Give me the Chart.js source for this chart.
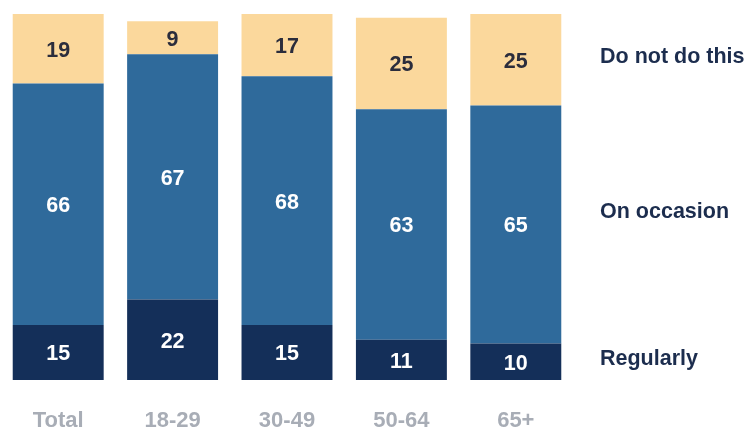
<!DOCTYPE html>
<html>
<head>
<meta charset="utf-8">
<script src="https://cdn.jsdelivr.net/npm/chart.js@4.4.0/dist/chart.umd.min.js"></script>
<style>
  html, body { margin: 0; padding: 0; background: #ffffff; }
  #wrap { width: 750px; height: 432px; }
</style>
</head>
<body>
<div id="wrap"><canvas id="chart"></canvas></div>
<script>
// Chart data
const categories = ['Total', '18-29', '30-49', '50-64', '65+'];
const regularly = [15, 22, 15, 11, 10];
const onOccasion = [66, 67, 68, 63, 65];
const doNotDoThis = [19, 9, 17, 25, 25];
const seriesNames = ['Regularly', 'On occasion', 'Do not do this'];

const FONT = "'Liberation Sans', Arial, sans-serif";

// value labels inside each bar segment
const segmentLabels = {
    id: 'segmentLabels',
    afterDatasetsDraw(chart) {
        const ctx = chart.ctx;
        ctx.save();
        ctx.font = 'bold 21.5px ' + FONT;
        ctx.textAlign = 'center';
        ctx.textBaseline = 'middle';
        chart.data.datasets.forEach((ds, i) => {
            const meta = chart.getDatasetMeta(i);
            meta.data.forEach((bar, j) => {
                ctx.fillStyle = ds.labelColor;
                ctx.fillText(ds.data[j], bar.x, (bar.y + bar.base) / 2 + 2);
            });
        });
        ctx.restore();
    }
};

// series names to the right of the bars
const sideLabels = {
    id: 'sideLabels',
    afterDraw(chart) {
        const ctx = chart.ctx;
        const y = chart.scales.y;
        const datasets = chart.data.datasets;
        ctx.save();
        ctx.font = 'bold 21.5px ' + FONT;
        ctx.fillStyle = '#1c2d4e';
        ctx.textAlign = 'left';
        ctx.textBaseline = 'middle';
        datasets.forEach((ds, i) => {
            // average segment midpoint across categories
            let sum = 0;
            ds.data.forEach((v, j) => {
                let start = 0;
                for (let k = 0; k < i; k++) start += datasets[k].data[j];
                sum += start + v / 2;
            });
            const mid = sum / ds.data.length;
            ctx.fillText(ds.label, chart.chartArea.right + 27, y.getPixelForValue(mid) + 6);
        });
        ctx.restore();
    }
};

new Chart(document.getElementById('chart'), {
    type: 'bar',
    data: {
        labels: categories,
        datasets: [
            { label: seriesNames[0], data: regularly, backgroundColor: '#142f59', labelColor: '#ffffff' },
            { label: seriesNames[1], data: onOccasion, backgroundColor: '#2f6a9b', labelColor: '#ffffff' },
            { label: seriesNames[2], data: doNotDoThis, backgroundColor: '#fbd89c', labelColor: '#2b2d3c' }
        ]
    },
    options: {
        responsive: true,
        maintainAspectRatio: false,
        animation: false,
        layout: { padding: { left: 1, right: 177, top: 14, bottom: -30 } },
        datasets: {
            bar: { barPercentage: 0.795, categoryPercentage: 1, borderWidth: 0 }
        },
        plugins: {
            legend: { display: false },
            tooltip: { enabled: false }
        },
        scales: {
            x: {
                stacked: true,
                grid: { display: false, drawTicks: false },
                border: { display: false },
                ticks: {
                    color: '#a8adb6',
                    padding: 30,
                    font: { family: FONT, size: 22, weight: 'bold', lineHeight: 1 }
                }
            },
            y: {
                stacked: true,
                display: false,
                min: 0,
                max: 100
            }
        }
    },
    plugins: [segmentLabels, sideLabels]
});
</script>
</body>
</html>
